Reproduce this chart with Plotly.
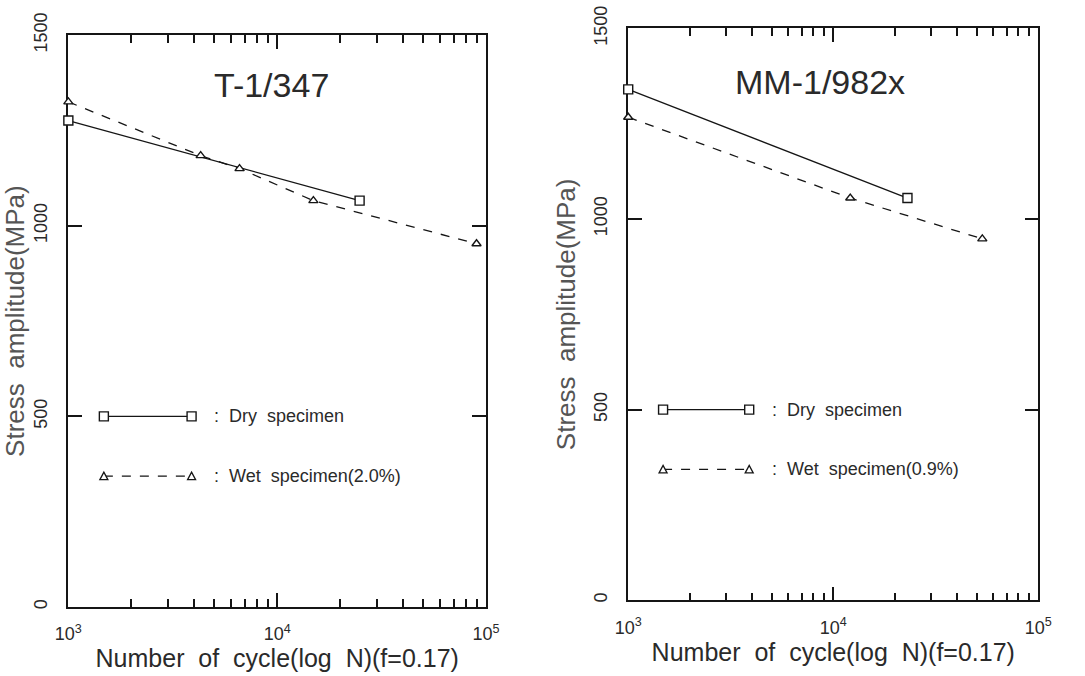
import plotly.graph_objects as go

# ---------------- data ----------------
x_tickvals = [1e3, 1e4, 1e5]
x_ticktext = ["10<sup>3</sup>", "10<sup>4</sup>", "10<sup>5</sup>"]
x_minor = [2e3, 3e3, 4e3, 5e3, 6e3, 7e3, 8e3, 9e3,
           2e4, 3e4, 4e4, 5e4, 6e4, 7e4, 8e4, 9e4]
y_tickvals = [0, 500, 1000, 1500]

# T-1/347
t_dry_N = [1000, 24800]
t_dry_S = [1276, 1066]
t_wet_N = [1000, 4300, 6600, 14900, 90000]
t_wet_S = [1325, 1184, 1150, 1066, 953]

# MM-1/982x
m_dry_N = [1000, 23000]
m_dry_S = [1340, 1055]
m_wet_N = [1000, 12100, 53300]
m_wet_S = [1267, 1055, 948]

panel_titles = ["T-1/347", "MM-1/982x"]
dry_label = ":  Dry  specimen"
wet_labels = [":  Wet  specimen(2.0%)", ":  Wet  specimen(0.9%)"]
x_title = "Number\u00a0\u00a0of\u00a0\u00a0cycle(log\u00a0\u00a0N)(f=0.17)"
y_title = "Stress\u00a0\u00a0amplitude(MPa)"

# ---------------- style ----------------
FONT = "Liberation Sans"
INK = "#151515"
TXT = "#2a2a2a"

fig = go.Figure()

def add_series(N, S, xa, ya, dash, symbol, size):
    fig.add_trace(go.Scatter(
        x=N, y=S, xaxis=xa, yaxis=ya, mode="lines+markers",
        line=dict(color=INK, width=1.3, dash=dash),
        marker=dict(symbol=symbol, size=size, color="white",
                    line=dict(color=INK, width=1.4)),
        cliponaxis=False, showlegend=False, hoverinfo="x+y"))

add_series(t_dry_N, t_dry_S, "x", "y", "solid", "square", 9)
add_series(t_wet_N, t_wet_S, "x", "y", "dash", "triangle-up", 8)
add_series(m_dry_N, m_dry_S, "x2", "y2", "solid", "square", 9)
add_series(m_wet_N, m_wet_S, "x2", "y2", "dash", "triangle-up", 8)

def xaxis_cfg(domain, anchor):
    return dict(
        type="log", range=[2.99999, 5.00001], domain=domain, anchor=anchor,
        automargin=False, layer="below traces",
        tickmode="array", tickvals=x_tickvals, ticktext=x_ticktext,
        ticks="inside", ticklen=14, tickwidth=1.5, tickcolor=INK,
        minor=dict(tickmode="array", tickvals=x_minor, ticks="inside",
                   ticklen=8, tickwidth=1.5, tickcolor=INK, showgrid=False),
        showline=True, linecolor=INK, linewidth=1.5, mirror="ticks",
        showgrid=False, zeroline=False,
        tickfont=dict(family=FONT, size=18, color=TXT),
        ticklabelstandoff=10,
        title=dict(text=x_title, font=dict(family=FONT, size=25, color=TXT),
                   standoff=4),
    )

def yaxis_cfg(domain, anchor):
    return dict(
        range=[0, 1500], domain=domain, anchor=anchor,
        automargin=False, layer="below traces",
        tickmode="array", tickvals=y_tickvals,
        ticks="inside", ticklen=14, tickwidth=1.5, tickcolor=INK,
        showline=True, linecolor=INK, linewidth=1.5, mirror="ticks",
        showgrid=False, zeroline=False, tickangle=-90,
        tickfont=dict(family=FONT, size=18, color=TXT),
        ticklabelstandoff=12,
        title=dict(text=y_title, font=dict(family=FONT, size=26, color="#555"),
                   standoff=8),
    )

fig.update_layout(
    width=1085, height=676,
    margin=dict(l=0, r=0, t=0, b=0),
    paper_bgcolor="white", plot_bgcolor="white",
    showlegend=False,
    xaxis=xaxis_cfg([0.063, 0.448], "y"),
    yaxis=yaxis_cfg([0.102, 0.948], "x"),
    xaxis2=xaxis_cfg([0.579, 0.957], "y2"),
    yaxis2=yaxis_cfg([0.112, 0.958], "x2"),
)

# panel titles
title_pos = [(0.486, 0.913), (0.468, 0.906)]
for i, (ttl, (tx, ty)) in enumerate(zip(panel_titles, title_pos)):
    xr = "x domain" if i == 0 else "x2 domain"
    yr = "y domain" if i == 0 else "y2 domain"
    fig.add_annotation(text=ttl, x=tx, y=ty, xref=xr, yref=yr,
                       showarrow=False, xanchor="center", yanchor="middle",
                       font=dict(family=FONT, size=34, color=TXT))

# in-plot legend keys
for i in range(2):
    xr = "x domain" if i == 0 else "x2 domain"
    yr = "y domain" if i == 0 else "y2 domain"
    xa, xb = 0.085, 0.295
    for yk, dash, kind, label in [(1/3, "solid", "sq", dry_label),
                                  (0.229, "dash", "tri", wet_labels[i])]:
        fig.add_shape(type="line", xref=xr, yref=yr, x0=xa, x1=xb, y0=yk, y1=yk,
                      line=dict(color=INK, width=1.3, dash=dash))
        for xm in (xa, xb):
            if kind == "sq":
                fig.add_shape(type="rect", xref=xr, yref=yr,
                              xsizemode="pixel", ysizemode="pixel",
                              xanchor=xm, yanchor=yk,
                              x0=-4.5, x1=4.5, y0=-4.5, y1=4.5,
                              fillcolor="white", line=dict(color=INK, width=1.4))
            else:
                fig.add_shape(type="path", xref=xr, yref=yr,
                              xsizemode="pixel", ysizemode="pixel",
                              xanchor=xm, yanchor=yk,
                              path="M -4,-3.5 L 4,-3.5 L 0,4 Z",
                              fillcolor="white", line=dict(color=INK, width=1.3))
        fig.add_annotation(text=label, x=0.345, y=yk, xref=xr, yref=yr,
                           showarrow=False, xanchor="left", yanchor="middle",
                           font=dict(family=FONT, size=18, color=TXT))

fig.write_html("out.html")
